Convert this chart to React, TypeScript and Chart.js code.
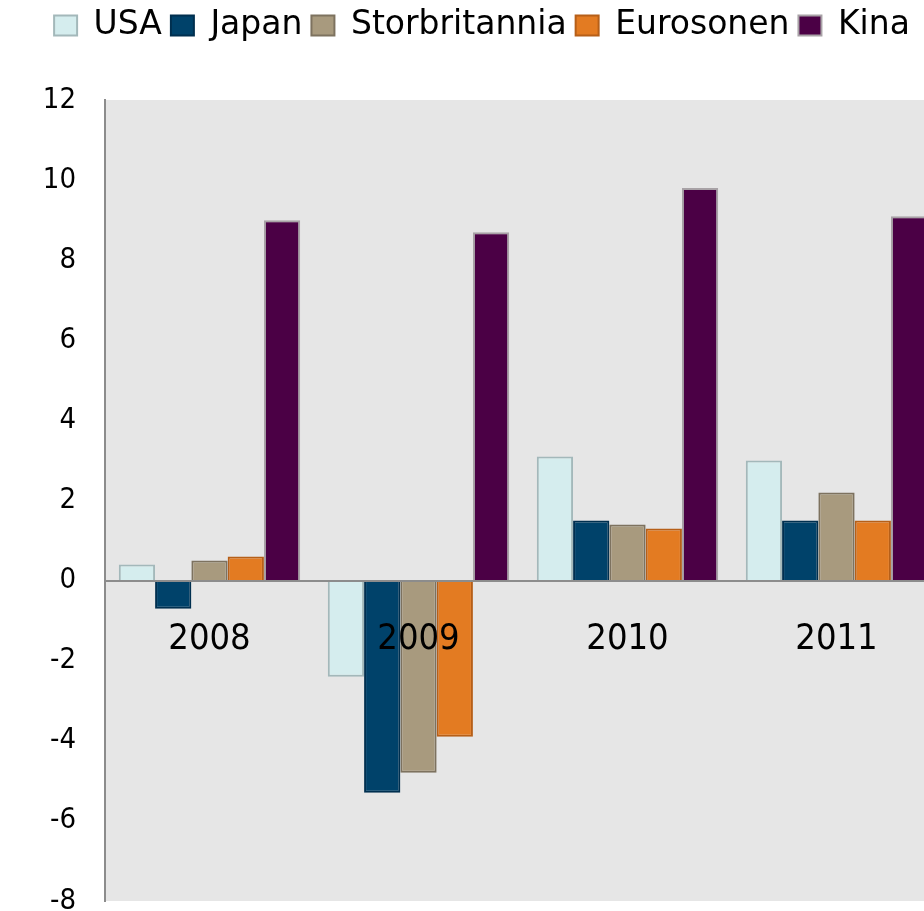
import React, { useEffect, useRef } from "react";
import { Chart, registerables } from "chart.js";

Chart.register(...registerables);

// ---- data ----
const categories = ["2008", "2009", "2010", "2011"];
const seriesNames = ["USA", "Japan", "Storbritannia", "Eurosonen", "Kina"];
const usaValues = [0.4, -2.4, 3.1, 3.0];
const japanValues = [-0.7, -5.3, 1.5, 1.5];
const ukValues = [0.5, -4.8, 1.4, 2.2];
const euroValues = [0.6, -3.9, 1.3, 1.5];
const kinaValues = [9.0, 8.7, 9.8, 9.1];
const yMin = -8;
const yMax = 12;
const yStep = 2;

// ---- styles ----
const FONT = '"DejaVu Sans Condensed", "DejaVu Sans", sans-serif';
const LEGEND_FONT = '"DejaVu Sans", sans-serif';
const fills = ["#d5edee", "#00426a", "#a89a7e", "#e37b22", "#4b0045"];
const borders = ["#a3b8ba", "#002f4f", "#7d725f", "#b65f18", "#a8a2a6"];

const plotBg = {
  id: "plotBg",
  beforeDraw(chart: any) {
    const { ctx, chartArea } = chart;
    if (!chartArea) return;
    ctx.save();
    ctx.fillStyle = "#e6e6e6";
    ctx.fillRect(chartArea.left, chartArea.top, chartArea.right - chartArea.left, chartArea.bottom - chartArea.top);
    ctx.restore();
  },
};

const legendGap = {
  id: "legendGap",
  beforeInit(chart: any) {
    const legend = chart.legend;
    if (!legend) return;
    const fit = legend.fit;
    legend.fit = function () {
      fit.call(this);
      this.height += 48;
    };
  },
};

export default function App() {
  const ref = useRef<HTMLCanvasElement | null>(null);

  useEffect(() => {
    if (!ref.current) return;
    const valueLists = [usaValues, japanValues, ukValues, euroValues, kinaValues];
    const chart = new Chart(ref.current, {
      type: "bar",
      data: {
        labels: categories,
        datasets: seriesNames.map((name, i) => ({
          label: name,
          data: valueLists[i],
          backgroundColor: fills[i],
          borderColor: borders[i],
          borderWidth: 2,
          categoryPercentage: 0.868,
          barPercentage: 1.0,
        })),
      },
      options: {
        responsive: false,
        animation: false,
        layout: { padding: { left: 23, right: 0, top: 0, bottom: 39 } },
        plugins: {
          legend: {
            position: "top",
            labels: {
              boxWidth: 23,
              boxHeight: 20,
              padding: 9,
              color: "#000",
              font: { family: LEGEND_FONT, size: 33 },
            },
          },
          tooltip: { enabled: false },
        },
        scales: {
          x: {
            type: "category",
            position: { y: 0 } as any,
            offset: true,
            grid: { display: false, drawTicks: false },
            border: { display: true, color: "#8c8c8c", width: 2, z: 1 },
            ticks: {
              color: "#000",
              font: { family: FONT, size: 36 },
              padding: 37,
              maxRotation: 0,
              autoSkip: false,
              z: 1,
            },
          },
          y: {
            min: yMin,
            max: yMax,
            grid: { display: false, drawTicks: false },
            border: { display: true, color: "#8c8c8c", width: 2 },
            ticks: {
              stepSize: yStep,
              color: "#000",
              font: { family: FONT, size: 29 },
              padding: 29,
            },
            afterFit: (s: any) => {
              s.width = 82;
              s.paddingTop = 0;
              s.paddingBottom = 0;
            },
          },
        },
      },
      plugins: [plotBg, legendGap],
    });
    return () => chart.destroy();
  }, []);

  return (
    <div
      style={{
        position: "fixed",
        left: 0,
        top: 0,
        width: 924,
        height: 911,
        overflow: "hidden",
        background: "#fff",
      }}
    >
      <canvas ref={ref} width={941} height={940} style={{ width: 941, height: 940, display: "block" }} />
    </div>
  );
}
